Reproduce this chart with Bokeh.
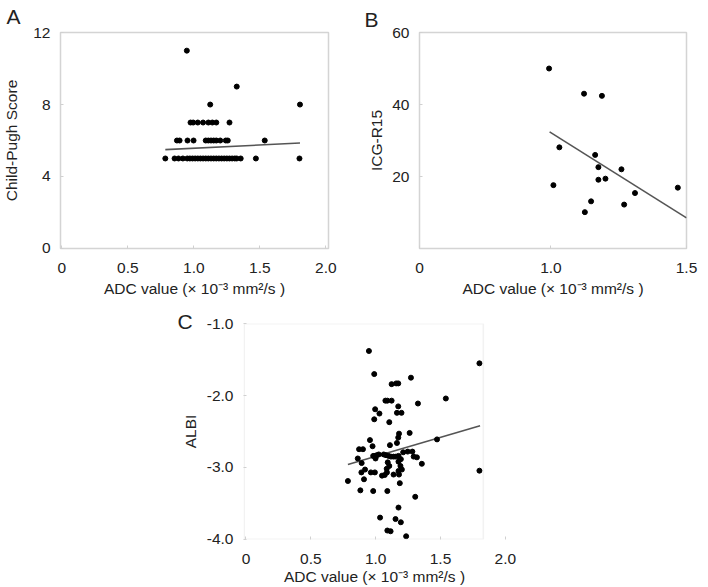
from bokeh.plotting import figure
from bokeh.layouts import column, row, Spacer
from bokeh.models import FixedTicker, CustomJSTickFormatter, Range1d, Title, BoxAnnotation
from bokeh.embed import file_html
from bokeh.resources import INLINE

FONT = "Liberation Sans"
TXT = "#222222"
FS = "15.5px"
X_TITLE = "ADC value (\u00d7 10\u207b\u00b3 mm\u00b2/s )"

# ---------------- Panel A: Child-Pugh score vs ADC ----------------
a_adc = [0.784, 0.854, 0.884, 0.917, 0.95, 0.97, 0.99, 1.01, 1.03, 1.05, 1.07, 1.09,
         1.11, 1.13, 1.15, 1.17, 1.19, 1.21, 1.23, 1.25, 1.27, 1.29, 1.31, 1.325,
         1.355, 1.47, 1.80,
         0.872, 0.892, 0.952, 0.998, 1.09, 1.11, 1.13, 1.15, 1.17, 1.20, 1.242, 1.257, 1.537,
         0.975, 0.995, 1.03, 1.07, 1.11, 1.14, 1.17, 1.27,
         1.124, 1.804,
         1.325,
         0.947]
a_cp = [5] * 27 + [6] * 13 + [7] * 8 + [8] * 2 + [9] + [11]
a_fit_x = [0.784, 1.804]
a_fit_y = [5.49, 5.86]
a_xticks = [0, 0.5, 1.0, 1.5, 2.0]
a_yticks = [0, 4, 8, 12]

# ---------------- Panel B: ICG-R15 vs ADC ----------------
b_adc = [0.993, 1.122, 1.188, 1.031, 1.163, 1.175, 1.26, 1.009, 1.175, 1.201,
         1.31, 1.468, 1.148, 1.27, 1.125]
b_icg = [50.0, 43.0, 42.4, 28.1, 26.0, 22.6, 22.0, 17.6, 19.1, 19.4,
         15.4, 16.9, 13.1, 12.2, 10.1]
b_fit_x = [0.995, 1.5]
b_fit_y = [32.4, 8.5]
b_xticks = [0.515, 1.0, 1.5]
b_yticks = [20, 40, 60]

# ---------------- Panel C: ALBI vs ADC ----------------
c_adc = [0.948, 0.989, 1.123, 1.158, 1.174, 1.272, 1.80, 1.075, 1.09, 1.123,
         1.326, 1.541, 0.996, 1.029, 1.174, 1.164, 1.199, 0.989, 1.105, 1.18,
         1.174, 1.164, 1.262, 0.956, 0.976, 0.872, 0.902, 1.11, 1.473, 0.862,
         0.892, 0.981, 0.994, 1.009, 1.024, 0.999, 1.062, 1.08, 1.10, 1.118,
         1.138, 1.156, 1.176, 1.194, 1.212, 1.247, 1.283, 1.293, 1.318, 1.356,
         1.093, 1.105, 1.085, 1.176, 1.191, 1.176, 1.202, 0.89, 0.918, 0.963,
         0.994, 1.049, 1.07, 1.087, 1.138, 1.18, 0.786, 0.91, 1.186, 0.882,
         0.981, 1.09, 1.305, 1.176, 1.034, 1.153, 1.194, 1.09, 1.115, 1.235,
         1.80]
c_albi = [-1.378, -1.70, -1.84, -1.83, -1.83, -1.75, -1.55, -2.07, -2.07, -2.07,
          -2.11, -2.04, -2.19, -2.25, -2.15, -2.24, -2.24, -2.33, -2.37, -2.53,
          -2.585, -2.66, -2.52, -2.62, -2.705, -2.747, -2.747, -2.69, -2.61, -2.876,
          -2.94, -2.84, -2.84, -2.83, -2.82, -2.876, -2.82, -2.83, -2.84, -2.85,
          -2.85, -2.85, -2.84, -2.885, -2.79, -2.78, -2.78, -2.85, -2.86, -2.95,
          -2.93, -2.98, -3.02, -2.92, -2.98, -3.05, -3.03, -3.07, -3.03, -3.07,
          -3.07, -3.115, -3.106, -3.07, -3.10, -3.10, -3.19, -3.166, -3.22, -3.32,
          -3.33, -3.33, -3.41, -3.56, -3.70, -3.72, -3.765, -3.88, -3.89, -3.96,
          -3.046]
c_fit_x = [0.786, 1.805]
c_fit_y = [-2.96, -2.42]
c_xticks = [0, 0.5, 1.0, 1.5, 2.0]
c_yticks = [-4, -3, -2, -1]
c_box_right = 1.83   # right edge of the plotted region in panel C

fmt1 = CustomJSTickFormatter(code="return Math.abs(tick) < 1e-9 ? '0' : tick.toFixed(1);")
fmtB = CustomJSTickFormatter(code="return tick < 0.6 ? '0' : tick.toFixed(1);")


def style(p, xticks, yticks, xfmt=None, yfmt=None, ytitle="", xstand=14, xts=4, ystand=10, yts=5):
    p.outline_line_color = "#d4d4d4"
    p.outline_line_width = 1.5
    p.xgrid.visible = False
    p.ygrid.visible = False
    p.xaxis.ticker = FixedTicker(ticks=xticks)
    p.yaxis.ticker = FixedTicker(ticks=yticks)
    if xfmt is not None:
        p.xaxis.formatter = xfmt
    if yfmt is not None:
        p.yaxis.formatter = yfmt
    for ax in (p.xaxis[0], p.yaxis[0]):
        ax.axis_line_color = None
        ax.major_tick_line_color = "#d0d0d0"
        ax.major_tick_in = 3
        ax.major_tick_out = 0
        ax.minor_tick_line_color = None
        ax.major_label_text_font = FONT
        ax.major_label_text_font_size = FS
        ax.major_label_text_color = TXT
        ax.axis_label_text_font = FONT
        ax.axis_label_text_font_size = FS
        ax.axis_label_text_font_style = "normal"
        ax.axis_label_text_color = TXT
    p.xaxis.axis_label = X_TITLE
    p.yaxis.axis_label = ytitle
    p.xaxis.major_label_standoff = xstand
    p.xaxis.axis_label_standoff = xts
    p.yaxis.major_label_standoff = ystand
    p.yaxis.axis_label_standoff = yts
    p.yaxis.major_label_orientation = "horizontal"


def panel_letter(p, t, offset, standoff, valign):
    p.add_layout(Title(text=t, align="left", offset=offset, standoff=standoff,
                       vertical_align=valign,
                       text_font=FONT, text_font_size="21px", text_font_style="normal",
                       text_color=TXT), "above")


# ---- A ----
pA = figure(frame_width=268, frame_height=216, min_border_left=57, min_border_right=12,
            min_border_top=32, min_border_bottom=56,
            x_range=Range1d(-0.01, 2.02), y_range=Range1d(-0.01, 12.01),
            output_backend="svg", toolbar_location=None)
style(pA, a_xticks, a_yticks, xfmt=fmt1, ytitle="Child-Pugh Score", yts=10)
pA.line(a_fit_x, a_fit_y, line_color="#555555", line_width=1.6)
pA.scatter(a_adc, a_cp, size=5, color="black")
panel_letter(pA, "A", -54, 6, "top")

# ---- B ----
pB = figure(frame_width=267, frame_height=216, min_border_left=79, min_border_right=24,
            min_border_top=32, min_border_bottom=56,
            x_range=Range1d(0.515, 1.5), y_range=Range1d(0, 60),
            output_backend="svg", toolbar_location=None)
style(pB, b_xticks, b_yticks, xfmt=fmtB, ytitle="ICG-R15", yts=4)
pB.line(b_fit_x, b_fit_y, line_color="#555555", line_width=1.6)
pB.scatter(b_adc, b_icg, size=5, color="black")
panel_letter(pB, "B", -55, 0, "top")

# ---- C ----
pC = figure(frame_width=262, frame_height=216, min_border_left=73, min_border_right=18,
            min_border_top=19, min_border_bottom=50,
            x_range=Range1d(-0.019, 2.001), y_range=Range1d(-4.005, -0.995),
            output_backend="svg", toolbar_location=None)
style(pC, c_xticks, c_yticks, xfmt=fmt1, yfmt=fmt1, ytitle="ALBI",
      xstand=14, xts=1, ystand=10, yts=5)
pC.outline_line_color = None
pC.add_layout(BoxAnnotation(left=-0.013, right=c_box_right, top=-0.998, bottom=-4.0,
                            fill_alpha=0, line_color="#d4d4d4", line_width=1.5))
pC.line(c_fit_x, c_fit_y, line_color="#555555", line_width=1.6)
pC.scatter(c_adc, c_albi, size=5, color="black")
panel_letter(pC, "C", -66, -18, "bottom")

layout = column(row(pA, pB), row(Spacer(width=170, height=10), pC))

open("out.html", "w").write(file_html(layout, INLINE))
